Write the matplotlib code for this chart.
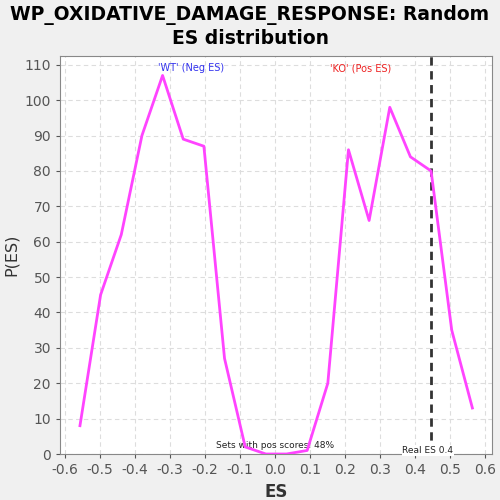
import numpy as np
from matplotlib import pyplot as plt

# random ES distribution (x = ES bin centres, y = counts)
es_bins = [-0.557, -0.498, -0.439, -0.380, -0.321, -0.262, -0.203, -0.144, -0.085, -0.026,
           0.033, 0.092, 0.151, 0.210, 0.269, 0.328, 0.387, 0.446, 0.505, 0.564]
counts = [8, 45, 62, 90, 107, 89, 87, 27, 2, 0,
          0, 1, 20, 86, 66, 98, 84, 80, 35, 13]
real_es = 0.446
x_ticks = [-0.6, -0.5, -0.4, -0.3, -0.2, -0.1, 0.0, 0.1, 0.2, 0.3, 0.4, 0.5, 0.6]
y_ticks = [0, 10, 20, 30, 40, 50, 60, 70, 80, 90, 100, 110]

fig = plt.figure(figsize=(5, 5), dpi=100, facecolor="#f0f0f0")
ax = fig.add_axes([0.12, 0.092, 0.864, 0.796])
ax.set_facecolor("white")

ax.plot(es_bins, counts, color="#ff44ff", linewidth=2, zorder=3)
ax.axvline(real_es, color="#333333", linestyle=(0, (3, 2)), linewidth=2, zorder=2)

ax.set_xlim(-0.614, 0.62)
ax.set_ylim(0, 112.5)
ax.set_xticks(x_ticks)
ax.set_xticklabels([f"{t:.1f}" for t in x_ticks])
ax.set_yticks(y_ticks)
ax.grid(True, color="#dddddd", linestyle=(0, (4, 3)), linewidth=0.8)
ax.tick_params(colors="#555555", labelsize=10, length=3)
for s in ax.spines.values():
    s.set_color("#888888")

ax.set_xlabel("ES", fontsize=12, fontweight="bold", color="#333333")
ax.set_ylabel("P(ES)", fontsize=11.5, color="#333333")
fig.suptitle("WP_OXIDATIVE_DAMAGE_RESPONSE: Random\nES distribution",
             fontsize=13.5, fontweight="bold", y=0.99, linespacing=1.3)

ax.text(-0.24, 110.5, "'WT' (Neg ES)", color="#3333ee", fontsize=7, ha="center", va="top")
ax.text(0.245, 110.5, "'KO' (Pos ES)", color="#ee2222", fontsize=7, ha="center", va="top")
ax.text(0.0, 1.0, "Sets with pos scores: 48%", color="#222222", fontsize=6.5, ha="center", va="bottom", zorder=2)
ax.text(0.437, -0.3, "Real ES 0.4", color="#222222", fontsize=6.5, ha="center", va="bottom", zorder=4,
        bbox=dict(facecolor="white", edgecolor="none", pad=0.5))

fig.savefig("out.png", dpi=100, facecolor=fig.get_facecolor())
